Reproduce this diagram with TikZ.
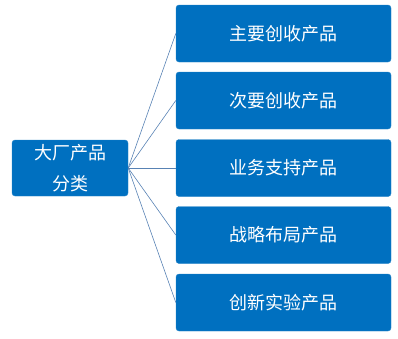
\documentclass[tikz,border=0pt]{standalone}
\usepackage{fontspec}
\usepackage{xcolor}
\usepackage{tikz}
\newfontfamily\cjk{Noto Sans CJK SC}
\definecolor{BoxBlue}{RGB}{0,112,192}
\definecolor{LinkBlue}{RGB}{88,130,180}

\begin{document}
\begin{tikzpicture}[
    x=1pt,
    y=-1pt,
    box/.style={
        rectangle,
        fill=BoxBlue,
        draw=BoxBlue!85!white,
        rounded corners=3pt,
        align=center,
        text=white,
        minimum width=215pt,
        minimum height=57pt,
        font=\cjk\fontsize{18}{31}\selectfont
    },
    rootbox/.style={
        box,
        minimum width=116pt,
        minimum height=56pt
    },
    link/.style={
        draw=LinkBlue,
        semithick
    }
]

\useasboundingbox (0,0) rectangle (398,338);

\node[rootbox] (root) at (70,168)
    {大厂产品\\分类};


\node[box] (main) at (283.5,33.5)
    {主要创收产品};

\node[box] (second) at (283.5,100.5)
    {次要创收产品};

\node[box] (support) at (283.5,168)
    {业务支持产品};

\node[box] (strategy) at (283.5,235)
    {战略布局产品};

\node[box] (innovate) at (283.5,302.5)
    {创新实验产品};


\draw[link] (root.east) -- (main.west);
\draw[link] (root.east) -- (second.west);
\draw[link] (root.east) -- (support.west);
\draw[link] (root.east) -- (strategy.west);
\draw[link] (root.east) -- (innovate.west);

\end{tikzpicture}
\end{document}
